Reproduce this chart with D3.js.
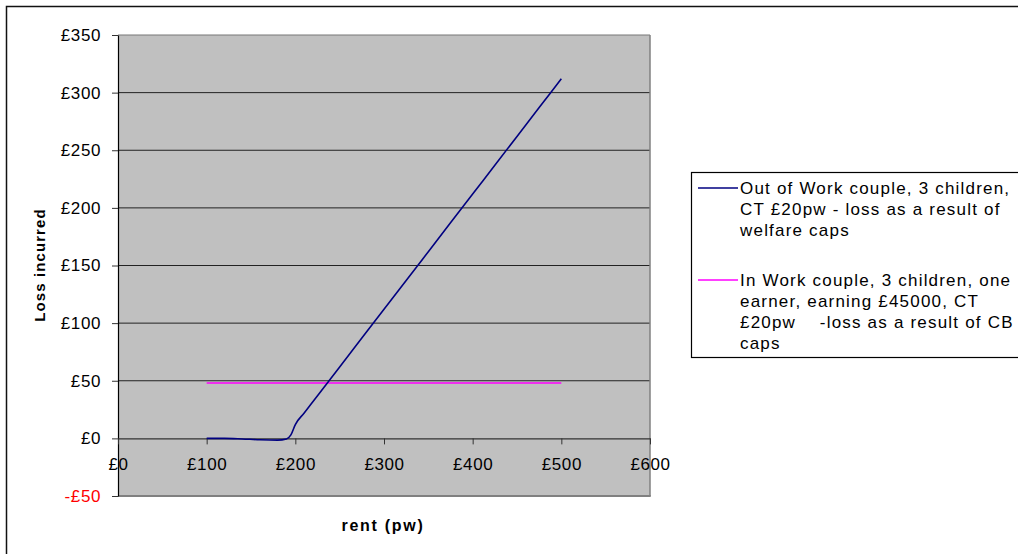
<!DOCTYPE html>
<html>
<head>
<meta charset="utf-8">
<script src="https://cdn.jsdelivr.net/npm/d3@7/dist/d3.min.js"></script>
<style>
  html, body { margin: 0; padding: 0; background: #fff; }
  svg { display: block; font-family: "Liberation Sans", Arial, sans-serif; }
</style>
</head>
<body>
<svg id="chart" width="1018" height="554"></svg>
<script>
// ---- data ----
const rent = [100, 120, 140, 160, 180, 190, 195, 200, 210, 225, 250, 275, 300, 325, 350, 375, 400, 425, 450, 475, 500];
const outOfWorkLoss = [0, 0, -0.5, -1.2, -1.5, -0.5, 3, 12, 22, 37, 62, 87, 112, 137, 162, 187, 212, 237, 262, 287, 312];
const inWorkRent = [100, 200, 300, 400, 500];
const inWorkLoss = [48, 48, 48, 48, 48];
const xTicks = [0, 100, 200, 300, 400, 500, 600];
const yTicks = [-50, 0, 50, 100, 150, 200, 250, 300, 350];
const seriesNames = [
  ["Out of Work couple, 3 children,", "CT £20pw - loss as a result of", "welfare caps"],
  ["In Work couple, 3 children, one", "earner, earning £45000, CT", "£20pw    -loss as a result of CB", "caps"]
];
const seriesColors = ["#000080", "#FF00FF"];
const xTitle = "rent (pw)";
const yTitle = "Loss incurred";

(function () {
const svg = d3.select("#chart");

// outer frame
svg.append("rect").attr("x", 6.5).attr("y", 6.5).attr("width", 1100).attr("height", 600)
  .attr("fill", "#fff").attr("stroke", "#111").attr("stroke-width", 1.5);

const pLeft = 118, pRight = 650, pTop = 35, pBottom = 496;
const x = d3.scaleLinear().domain([0, 600]).range([pLeft, pRight]);
const y = d3.scaleLinear().domain([-50, 350]).range([pBottom, pTop]);
const fmt = d => (d < 0 ? "-£" : "£") + Math.abs(d);

// plot area
svg.append("rect").attr("x", pLeft).attr("y", pTop).attr("width", pRight - pLeft).attr("height", pBottom - pTop)
  .attr("fill", "#C0C0C0");

// gridlines
svg.append("g").selectAll("line").data(yTicks.filter(d => d !== -50 && d !== 0)).join("line")
  .attr("x1", pLeft).attr("x2", pRight).attr("y1", d => y(d)).attr("y2", d => y(d))
  .attr("stroke", d => d === 350 ? "#777" : "#222").attr("stroke-width", 1);

// plot border right / bottom
svg.append("line").attr("x1", pRight).attr("x2", pRight).attr("y1", pTop).attr("y2", pBottom)
  .attr("stroke", "#808080").attr("stroke-width", 1.5);
svg.append("line").attr("x1", pLeft).attr("x2", pRight + 0.75).attr("y1", pBottom).attr("y2", pBottom)
  .attr("stroke", "#808080").attr("stroke-width", 2);

// y axis
const yAxis = svg.append("g").attr("transform", `translate(${pLeft},0)`)
  .call(d3.axisLeft(y).tickValues(yTicks).tickFormat(fmt).tickSize(6).tickSizeOuter(0).tickPadding(11));
yAxis.select(".domain").attr("stroke", "#000").attr("stroke-width", 1.2);
yAxis.selectAll(".tick line").attr("stroke", "#333");
yAxis.selectAll(".tick text").attr("font-size", 17).attr("letter-spacing", 0.6)
  .attr("font-family", "'Liberation Sans', Arial, sans-serif")
  .attr("fill", d => d < 0 ? "#FF0000" : "#000");

// x axis at zero
const xAxis = svg.append("g").attr("transform", `translate(0,${y(0)})`)
  .call(d3.axisBottom(x).tickValues(xTicks).tickFormat(fmt).tickSize(6).tickSizeOuter(0).tickPadding(14));
xAxis.select(".domain").attr("stroke", "#333").attr("stroke-width", 1.2);
xAxis.selectAll(".tick line").attr("stroke", "#333");
xAxis.selectAll(".tick text").attr("font-size", 17).attr("letter-spacing", 0.6)
  .attr("font-family", "'Liberation Sans', Arial, sans-serif").attr("fill", "#000");

// series
const line = d3.line().x(d => x(d[0])).y(d => y(d[1])).curve(d3.curveMonotoneX);
svg.append("path").datum(inWorkRent.map((r, i) => [r, inWorkLoss[i]]))
  .attr("d", line).attr("fill", "none").attr("stroke", seriesColors[1]).attr("stroke-width", 1.5);
svg.append("path").datum(rent.map((r, i) => [r, outOfWorkLoss[i]]))
  .attr("d", line).attr("fill", "none").attr("stroke", seriesColors[0]).attr("stroke-width", 1.6);

// axis titles
svg.append("text").attr("x", 383).attr("y", 531).attr("text-anchor", "middle")
  .attr("font-size", 16).attr("font-weight", "bold").attr("letter-spacing", 1.7).text(xTitle);
svg.append("text").attr("transform", "translate(45,265) rotate(-90)").attr("text-anchor", "middle")
  .attr("font-size", 15).attr("font-weight", "bold").attr("letter-spacing", 1.1).text(yTitle);

// legend
svg.append("rect").attr("x", 691.5).attr("y", 172.5).attr("width", 400).attr("height", 185)
  .attr("fill", "#fff").attr("stroke", "#000").attr("stroke-width", 1.2);
const groupY = [188, 280];
seriesNames.forEach((lines, i) => {
  svg.append("line").attr("x1", 698).attr("x2", 738).attr("y1", groupY[i]).attr("y2", groupY[i])
    .attr("stroke", seriesColors[i]).attr("stroke-width", 1.5);
  const t = svg.append("text").attr("font-size", 17).attr("letter-spacing", 1.2)
    .attr("fill", "#000").style("white-space", "pre");
  lines.forEach((s, j) => {
    t.append("tspan").attr("x", 740).attr("y", groupY[i] + 6 + j * 21).text(s);
  });
});
})();
</script>
</body>
</html>
